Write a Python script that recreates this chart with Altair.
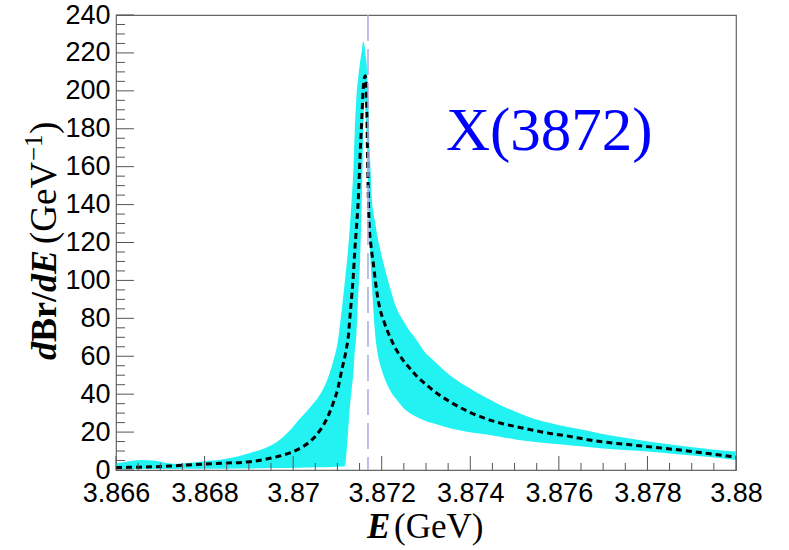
import altair as alt
import pandas as pd

# ---- data ----
energy = [3.86600, 3.86627, 3.86654, 3.86684, 3.86729, 3.86790, 3.86846, 3.86903,
          3.86936, 3.86970, 3.86993, 3.87015, 3.87038, 3.87061, 3.87076, 3.87090,
          3.87101, 3.87110, 3.87117, 3.87121, 3.87124, 3.87128, 3.87132, 3.87136,
          3.87139, 3.87143, 3.87147, 3.87151, 3.87155, 3.87158, 3.87161, 3.87163,
          3.87166, 3.87168, 3.87170, 3.87172, 3.87175, 3.87178, 3.87181, 3.87185,
          3.87189, 3.87196, 3.87204, 3.87219, 3.87234, 3.87248, 3.87264, 3.87279,
          3.87298, 3.87316, 3.87354, 3.87392, 3.87429, 3.87467, 3.87505, 3.87542,
          3.87580, 3.87618, 3.87648, 3.87693, 3.87749, 3.87806, 3.87874, 3.87941,
          3.88000]
band_low = [0.5, 0.5, 0.5, 0.5, 0.5, 0.6, 0.7, 0.8,
            0.9, 1.0, 1.1, 1.2, 1.3, 1.4, 1.5, 1.6,
            1.7, 1.8, 2.0, 10.5, 20, 33, 42, 51,
            62, 72, 92, 109, 142, 175, 195, 190,
            175, 158, 142, 125, 109, 97, 85, 72,
            64, 56, 50, 42, 37, 33, 30, 28,
            26, 24.6, 22, 20.2, 19, 17.6, 16, 14.9,
            14, 13.2, 12.5, 11.5, 10.5, 9.6, 8.2, 6.8,
            5.3]
central = [1.3, 1.4, 1.5, 1.7, 2.2, 3.0, 3.6, 4.4,
           5.6, 7.4, 9.0, 11.4, 15, 21, 27, 35,
           43, 53, 60, 65, 69, 80, 91, 103,
           115, 128, 142, 165, 185, 200, 207, 208,
           195, 165, 142, 128, 120, 114, 109, 101,
           94, 85, 79, 70, 63, 58, 53.5, 49.5,
           45.5, 42, 36, 31.2, 27.6, 24.8, 22.8, 21,
           19.3, 18, 16.7, 15, 13.6, 12.2, 10.5, 8.6,
           6.8]
band_high = [3.5, 4.5, 5.3, 5.0, 3.3, 4.4, 5.8, 9.0,
             11.5, 16, 21, 27, 33, 40, 47, 57,
             68, 85, 100, 109, 116, 128, 142, 158,
             178, 197, 207, 215, 221, 226, 224, 220,
             214, 205, 192, 175, 158, 142, 136, 131,
             125, 117, 109, 96, 85, 79, 73, 68.5,
             62, 58, 50, 44, 39, 34.3, 30.5, 27.2,
             24.8, 22.8, 21.5, 19.3, 17, 14.9, 12.8, 11,
             9.7]

threshold = [3.87169]
x_labels = [3.866, 3.868, 3.870, 3.872, 3.874, 3.876, 3.878, 3.880]
y_labels = [0, 20, 40, 60, 80, 100, 120, 140, 160, 180, 200, 220, 240]
label_text = ["X(3872)"]

# ---- tables ----
df = pd.DataFrame({"E": energy, "lo": band_low, "c": central, "hi": band_high})
x_minor = [round(3.866 + 0.0005 * i, 4) for i in range(29)]
y_minor = [5 * i for i in range(49)]
xt = pd.DataFrame({"t": x_minor, "major": [any(abs(t - m) < 1e-7 for m in x_labels) for t in x_minor]})
yt = pd.DataFrame({"t": y_minor, "major": [t % 20 == 0 for t in y_minor]})

W, H = 620, 455
xs = alt.Scale(domain=[3.866, 3.88], nice=False, zero=False)
ys = alt.Scale(domain=[0, 240], nice=False, zero=False)

x_axis = alt.Axis(values=x_labels, format=".3~f", title=None, grid=False, domain=False,
                  ticks=False, labelFont="Liberation Sans", labelFontSize=27,
                  labelColor="black", labelPadding=10, labelFlush=False, labelOverlap=False)
y_axis = alt.Axis(values=y_labels, title=None, grid=False, domain=False, ticks=False,
                  labelFont="Liberation Sans", labelFontSize=27, labelColor="black",
                  labelPadding=6, labelFlush=False, labelOverlap=False)

X = lambda f: alt.X(f, scale=xs, axis=x_axis)
Y = lambda f: alt.Y(f, scale=ys, axis=y_axis)

base = alt.Chart(df)
band = base.mark_area(color="#22f2f2", opacity=1, interpolate="monotone").encode(
    x=X("E:Q"), y=Y("lo:Q"), y2="hi:Q")
vline = alt.Chart(pd.DataFrame({"E": threshold})).mark_rule(
    color="#a8a8e8", strokeWidth=1.5, strokeDash=[26, 8]).encode(
    x=X("E:Q"), y=alt.value(0), y2=alt.value(H))
line = base.mark_line(color="black", strokeWidth=3, strokeDash=[6, 4],
                      interpolate="monotone").encode(x=X("E:Q"), y=Y("c:Q"))

xtick_major = alt.Chart(xt[xt.major]).mark_rule(color="#555", strokeWidth=1).encode(
    x=X("t:Q"), y=alt.value(H), y2=alt.value(H - 14))
xtick_minor = alt.Chart(xt[~xt.major]).mark_rule(color="#555", strokeWidth=1).encode(
    x=X("t:Q"), y=alt.value(H), y2=alt.value(H - 7))
ytick_major = alt.Chart(yt[yt.major]).mark_rule(color="#555", strokeWidth=1).encode(
    y=Y("t:Q"), x=alt.value(0), x2=alt.value(18))
ytick_minor = alt.Chart(yt[~yt.major]).mark_rule(color="#555", strokeWidth=1).encode(
    y=Y("t:Q"), x=alt.value(0), x2=alt.value(9))

label = alt.Chart(pd.DataFrame({"s": label_text})).mark_text(
    font="Liberation Serif", fontSize=61, color="#0000ff", align="left",
    baseline="alphabetic").encode(text="s:N", x=alt.value(330), y=alt.value(135))

def piece(txt, x, y, size, style="normal", weight="normal", angle=0, align="left"):
    return alt.Chart(pd.DataFrame({"s": [txt]})).mark_text(
        font="Liberation Serif", fontSize=size, fontStyle=style, fontWeight=weight,
        color="black", align=align, baseline="alphabetic", angle=angle).encode(
        text="s:N", x=alt.value(x), y=alt.value(y))

# x title: E (GeV)
xt1 = piece("E", 251, 523, 35, "italic", "bold")
xt2 = piece("(GeV)", 278, 523, 35)
# y title: dBr/dE (GeV^-1), rotated
yx = -60
yt1 = piece("d", yx, 345, 36, "italic", "bold", 270)
yt2 = piece("Br/", yx, 327, 36, "normal", "bold", 270)
yt3 = piece("dE", yx, 277, 36, "italic", "bold", 270)
yt4 = piece("(GeV", yx, 229, 37, angle=270)
yt5 = piece("\u22121", yx - 14, 146, 25, angle=270)
yt6 = piece(")", yx, 119, 37, angle=270)

chart = alt.layer(band, line, vline, xtick_major, xtick_minor, ytick_major, ytick_minor,
                  label, xt1, xt2, yt1, yt2, yt3, yt4, yt5, yt6).properties(
    width=W, height=H,
    autosize=alt.AutoSizeParams(type="none"),
    padding={"left": 116, "top": 15, "right": 53, "bottom": 80},
).configure_view(stroke="#666", strokeWidth=1.2)

chart.save("out.html", embed_options={"renderer": "svg", "actions": False})
